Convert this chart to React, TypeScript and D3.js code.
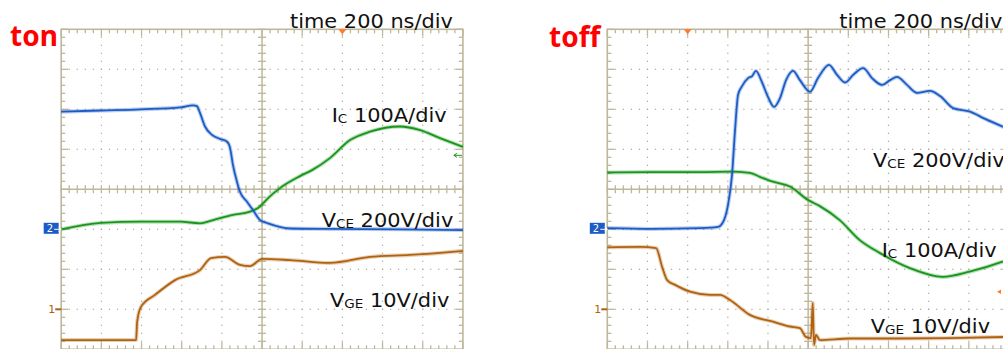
import * as d3 from 'd3';
import React from 'react';

// time in ns, trace level in divisions from screen centre
const tonVce: [number, number][] = [
  [-1000, 1.94], [-802, 1.97], [-603, 2.0], [-404, 2.05], [-344, 2.1], [-324, 2.08],
  [-309, 1.91], [-284, 1.57], [-249, 1.36], [-209, 1.26], [-174, 1.19], [-159, 1.03],
  [-145, 0.61], [-125, 0.19], [-110, -0.06], [-75, -0.31], [-45, -0.52], [-10, -0.77],
  [30, -0.85], [139, -0.98], [338, -0.99], [687, -1.0], [1000, -1.02],
];
const tonIc: [number, number][] = [
  [-1000, -1.0], [-802, -0.84], [-603, -0.81], [-408, -0.81], [-309, -0.85], [-244, -0.77],
  [-145, -0.64], [-60, -0.56], [-10, -0.43], [30, -0.22], [89, 0.03], [189, 0.33],
  [249, 0.48], [338, 0.78], [438, 1.23], [537, 1.44], [687, 1.57], [787, 1.48],
  [886, 1.28], [1000, 1.06],
];
const tonVge: [number, number][] = [
  [-1000, -3.77], [-806, -3.77], [-627, -3.77], [-622, -3.32], [-603, -2.94], [-533, -2.64],
  [-433, -2.27], [-309, -2.02], [-254, -1.72], [-184, -1.69], [-110, -1.89], [-60, -1.92],
  [0, -1.74], [139, -1.77], [338, -1.84], [537, -1.69], [736, -1.64], [886, -1.59],
  [1000, -1.54],
];
const toffVce: [number, number][] = [
  [-1000, -0.97], [-787, -0.99], [-538, -0.97], [-449, -0.94], [-419, -0.77], [-399, -0.39],
  [-379, 0.36], [-364, 1.48], [-349, 2.36], [-329, 2.58], [-299, 2.78], [-279, 2.83],
  [-260, 2.96], [-230, 2.68], [-200, 2.31], [-170, 2.06], [-140, 2.28], [-110, 2.73],
  [-75, 2.96], [-41, 2.73], [9, 2.44], [49, 2.78], [104, 3.11], [144, 2.86], [184, 2.67],
  [224, 2.86], [274, 3.03], [318, 2.78], [368, 2.61], [408, 2.73], [443, 2.81], [488, 2.63],
  [542, 2.41], [607, 2.46], [657, 2.33], [722, 2.03], [806, 1.94], [881, 1.76], [1000, 1.5],
];
const toffIc: [number, number][] = [
  [-1000, 0.42], [-787, 0.43], [-538, 0.43], [-389, 0.44], [-290, 0.41], [-240, 0.31],
  [-175, 0.19], [-91, 0.07], [0, -0.27], [58, -0.42], [157, -0.77], [257, -1.27],
  [356, -1.59], [506, -1.97], [670, -2.19], [804, -2.06], [968, -1.81], [1000, -1.75],
];
const toffVge: [number, number][] = [
  [-1000, -1.45], [-836, -1.44], [-757, -1.47], [-727, -1.94], [-702, -2.27], [-662, -2.39],
  [-588, -2.56], [-488, -2.64], [-438, -2.64], [-389, -2.77], [-290, -3.14], [-175, -3.31],
  [-91, -3.43], [-41, -3.47], [-11, -3.69], [14, -3.72], [23, -2.84], [29, -3.89],
  [39, -3.64], [58, -3.77], [207, -3.73], [456, -3.73], [705, -3.72], [1000, -3.69],
];

const BLUE = '#1c5cc6';
const GREEN = '#18961c';
const BROWN = '#b0620f';
const GRID = '#bdb79b';
const DOT = '#aaa696';

const DIV_W = 40.17;
const DIV_H = 40;
const TOP = 29.3;

type Label = { main: string; sub: string; rest: string; dx: number; y: number };

const tonLabels: Label[] = [
  { main: 'time 200 ns/div', sub: '', rest: '', dx: 228.8, y: 28.3 },
  { main: 'I', sub: 'C', rest: ' 100A/div', dx: 270.5, y: 121.7 },
  { main: 'V', sub: 'CE', rest: ' 200V/div', dx: 260.5, y: 227.3 },
  { main: 'V', sub: 'GE', rest: ' 10V/div', dx: 268.8, y: 306.7 },
];
const toffLabels: Label[] = [
  { main: 'time 200 ns/div', sub: '', rest: '', dx: 232, y: 28.3 },
  { main: 'V', sub: 'CE', rest: ' 200V/div', dx: 265.7, y: 167 },
  { main: 'I', sub: 'C', rest: ' 100A/div', dx: 274.4, y: 257 },
  { main: 'V', sub: 'GE', rest: ' 10V/div', dx: 263.4, y: 333 },
];

function Scope({ x0, title, titleX, titleY, traces, labels, trigT, extra }: any) {
  const x = d3.scaleLinear().domain([-1000, 1000]).range([x0, x0 + 10 * DIV_W]);
  const y = d3.scaleLinear().domain([4, -4]).range([TOP, TOP + 8 * DIV_H]);
  const line = d3.line<[number, number]>()
    .x(d => x(d[0]))
    .y(d => y(d[1]))
    .curve(d3.curveMonotoneX);

  const majorX = d3.range(-1000, 1001, 200);
  const majorY = d3.range(-4, 5, 1);
  const minorX = d3.range(-1000, 1001, 40);
  const minorY = d3.range(-40, 41, 2).map(v => v / 10);

  // Punktraster auf den Hauptteilungen
  const dots: [number, number][] = [];
  majorX.filter(t => t !== 0 && Math.abs(t) !== 1000).forEach(t => {
    minorY.forEach(v => dots.push([x(t), y(v)]));
  });
  majorY.filter(v => v !== 0 && Math.abs(v) !== 4).forEach(v => {
    minorX.forEach(t => dots.push([x(t), y(v)]));
  });

  const xl = x(-1000), xr = x(1000), yt = y(4), yb = y(-4), xc = x(0), yc = y(0);
  const ticks: JSX.Element[] = [];
  minorX.forEach((t, i) => {
    const len = t % 200 === 0 ? 7 : 4;
    ticks.push(<line key={'tt' + i} x1={x(t)} x2={x(t)} y1={yt} y2={yt + len} />);
    ticks.push(<line key={'tb' + i} x1={x(t)} x2={x(t)} y1={yb} y2={yb - len} />);
    ticks.push(<line key={'tc' + i} x1={x(t)} x2={x(t)} y1={yc - 4} y2={yc + 4} />);
  });
  minorY.forEach((v, i) => {
    const len = Math.abs(v % 1) < 1e-6 ? 7 : 4;
    ticks.push(<line key={'yl' + i} x1={xl} x2={xl + len} y1={y(v)} y2={y(v)} />);
    ticks.push(<line key={'yr' + i} x1={xr} x2={xr - len} y1={y(v)} y2={y(v)} />);
    ticks.push(<line key={'yc' + i} x1={xc - 4} x2={xc + 4} y1={y(v)} y2={y(v)} />);
  });

  const trigX = x(trigT);
  const m2 = y(-1);
  const m1 = y(-3);

  return (
    <g>
      <text x={titleX} y={titleY} fill="#ff0000" fontFamily="'Noto Sans', sans-serif"
        fontWeight="bold" fontSize={28}>{title}</text>
      {dots.map((d, i) => <rect key={i} x={d[0] - 0.6} y={d[1] - 0.6} width={1.2} height={1.2} fill={DOT} />)}
      <g stroke={GRID} strokeWidth={1.3}>
        <rect x={xl} y={yt} width={xr - xl} height={yb - yt} fill="none" strokeWidth={1.6} />
        <line x1={xc} x2={xc} y1={yt} y2={yb} strokeWidth={1.5} />
        <line x1={xl} x2={xr} y1={yc} y2={yc} strokeWidth={1.5} />
        {ticks}
      </g>
      {traces.map((tr: any, i: number) => (
        <g key={i} fill="none" stroke={tr.color} strokeLinejoin="round">
          <path d={line(tr.data) || ''} strokeWidth={4} strokeOpacity={0.3} />
          <path d={line(tr.data) || ''} strokeWidth={1.8} />
        </g>
      ))}
      <path d={`M${trigX - 4},${yt} L${trigX + 4},${yt} L${trigX},${yt + 5} Z`} fill="#ff7a2a" />
      {/* Kanalmarker */}
      <rect x={xl - 17.5} y={m2 - 6.5} width={15} height={11} fill={BLUE} />
      <text x={xl - 14.5} y={m2 + 3} fill="#fff" fontFamily="'DejaVu Sans', sans-serif" fontSize={10}>2</text>
      <path d={`M${xl - 7},${m2} L${xl},${m2} M${xl - 2.5},${m2 - 2} L${xl},${m2} L${xl - 2.5},${m2 + 2}`}
        stroke="#fff" strokeWidth={1} fill="none" />
      <text x={xl - 13} y={m1 + 4} fill={BROWN} fontFamily="'DejaVu Sans', sans-serif" fontSize={11}>1</text>
      <path d={`M${xl - 6},${m1} L${xl},${m1}`} stroke={BROWN} strokeWidth={2} />
      {extra && extra(x, y)}
      {labels.map((l: Label, i: number) => (
        <text key={i} transform={`translate(${x0 + l.dx},${l.y}) scale(1.1,1)`} fill="#111"
          fontFamily="'DejaVu Sans', sans-serif" fontSize={19} style={{ whiteSpace: 'pre' }}>
          <tspan>{l.main}</tspan>
          {l.sub && <tspan fontSize={12.3} dy={1}>{l.sub}</tspan>}
          {l.rest && <tspan dy={-1}>{l.rest}</tspan>}
        </text>
      ))}
    </g>
  );
}

export default function App() {
  return (
    <svg width={1003} height={349} style={{ position: 'absolute', left: 0, top: 0, background: '#fff' }}>
      <Scope
        x0={61.2} title="ton" titleX={10} titleY={46} trigT={400}
        traces={[
          { data: tonIc, color: GREEN },
          { data: tonVge, color: BROWN },
          { data: tonVce, color: BLUE },
        ]}
        labels={tonLabels}
        extra={(x: any, y: any) => (
          <path d={`M${x(1000) - 9},${y(0.85)} L${x(1000) - 1},${y(0.85)} M${x(1000) - 6},${y(0.85) - 2} L${x(1000) - 9},${y(0.85)} L${x(1000) - 6},${y(0.85) + 2}`}
            stroke={GREEN} strokeWidth={1} fill="none" />
        )}
      />
      <Scope
        x0={607.3} title="toff" titleX={549} titleY={47} trigT={-600}
        traces={[
          { data: toffIc, color: GREEN },
          { data: toffVge, color: BROWN },
          { data: toffVce, color: BLUE },
        ]}
        labels={toffLabels}
        extra={(x: any, y: any) => (
          <path d="M997,291.7 L1001,289.5 L1001,293.9 Z" fill="#ff7a2a" />
        )}
      />
    </svg>
  );
}
